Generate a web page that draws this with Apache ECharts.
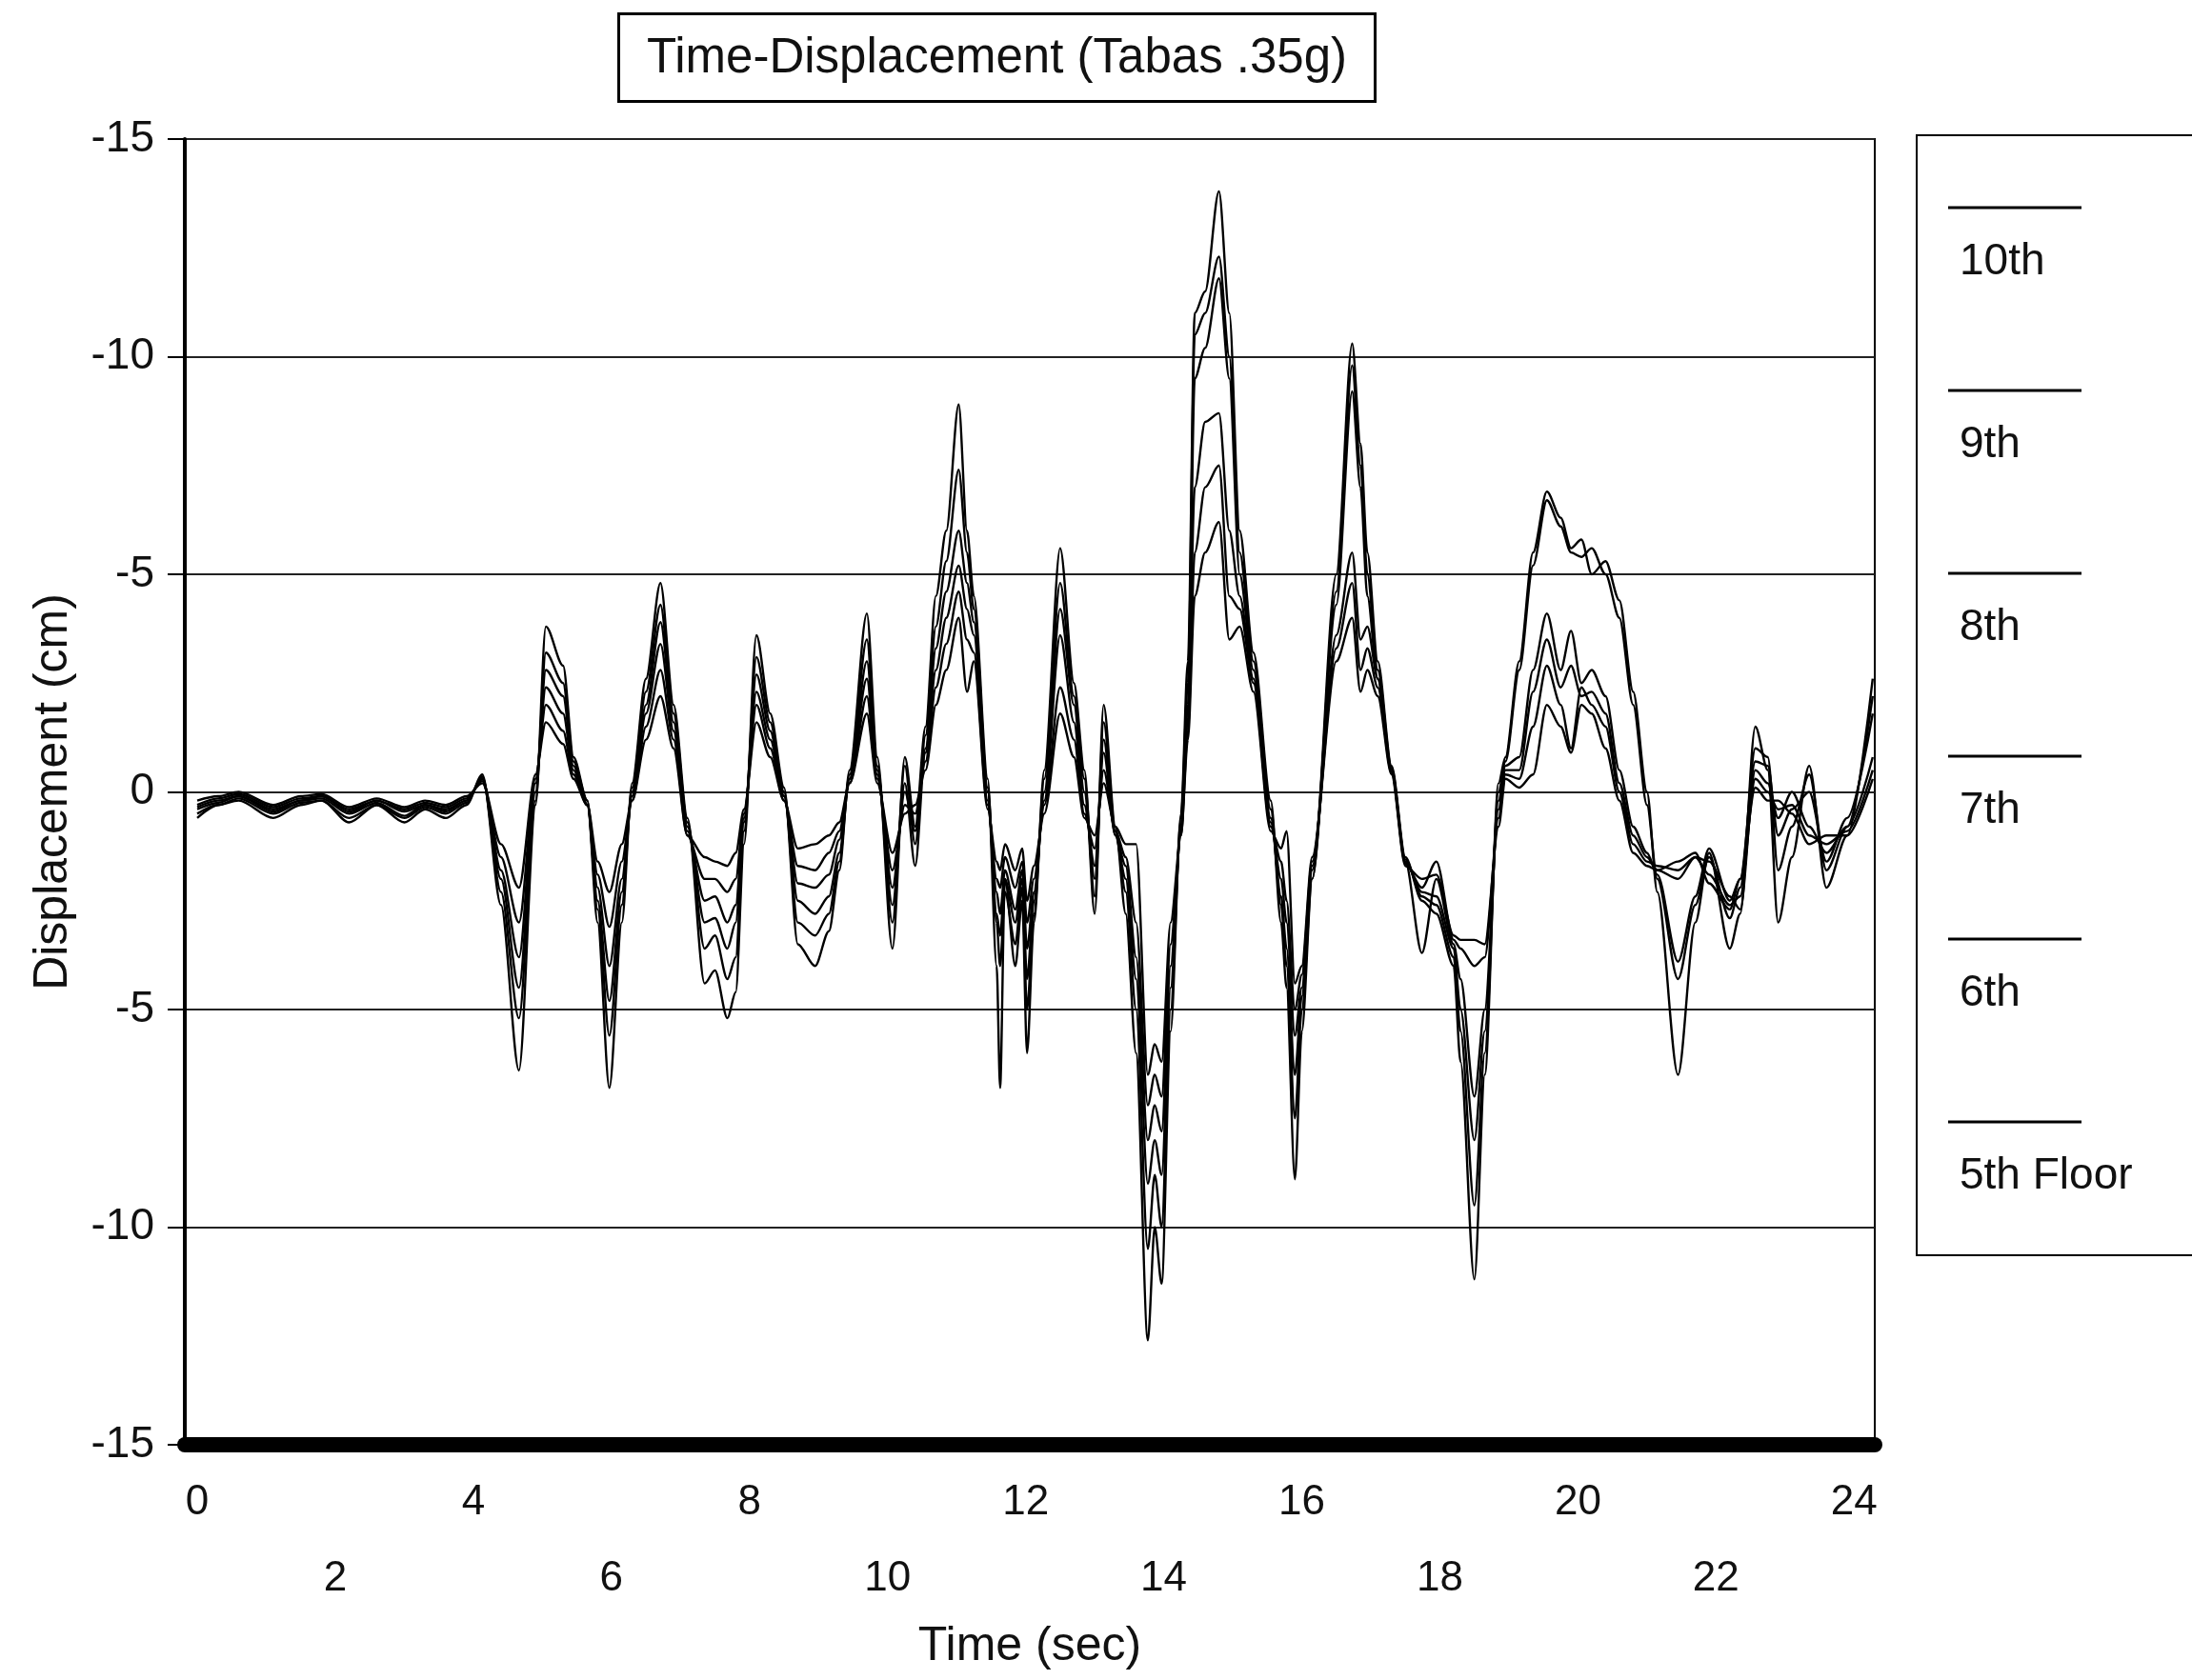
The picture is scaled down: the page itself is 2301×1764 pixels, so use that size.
<!DOCTYPE html>
<html><head><meta charset="utf-8">
<script src="https://cdn.jsdelivr.net/npm/echarts@6/dist/echarts.min.js"></script>
<style>html,body{margin:0;padding:0;background:#fff}#c{width:2301px;height:1764px}</style>
</head><body><div id="c"></div>
<script>
// time (sec)
const time = [
  0,0.3,0.6,1.1,1.5,1.8,2.2,2.6,3.0,3.3,3.6,3.9,4.13,
  4.4,4.66,4.9,5.05,5.3,5.45,5.65,
  5.8,5.97,6.15,6.3,6.5,6.71,6.9,
  7.1,7.35,7.5,7.68,7.8,7.92,
  8.1,8.3,8.5,8.7,8.95,9.15,9.3,
  9.45,9.7,9.85,10.07,10.25,10.4,10.55,
  10.7,10.85,11.03,11.15,11.25,11.45,
  11.58,11.63,11.7,11.85,11.95,12.02,12.12,12.27,
  12.5,12.7,12.85,13.0,13.13,13.3,13.45,
  13.6,13.77,13.87,13.97,14.1,14.25,14.35,
  14.45,14.6,14.8,14.95,15.1,15.3,
  15.55,15.7,15.78,15.9,16.0,16.15,
  16.5,16.73,16.85,16.95,17.1,17.3,17.5,
  17.74,17.95,18.2,18.3,18.5,18.65,18.85,18.95,
  19.15,19.35,19.55,19.75,19.9,20.05,20.2,20.4,
  20.6,20.8,21.0,21.15,21.45,21.7,21.9,
  22.2,22.35,22.57,22.75,22.9,23.1,23.35,23.6,23.9,24.27
];
const floor10 = [
  -0.6,-0.3,-0.2,-0.6,-0.3,-0.2,-0.7,-0.3,-0.7,-0.4,-0.6,-0.3,0.4,
  -2.6,-6.4,-0.3,3.8,2.9,0.8,-0.2,
  -3.0,-6.8,-3.0,0.2,2.6,4.8,2.0,
  -0.6,-4.4,-4.1,-5.2,-4.6,-1.2,
  3.6,1.8,0.1,-3.5,-4.0,-3.2,-1.8,
  0.5,4.1,0.8,-3.6,0.8,-0.8,1.5,
  4.5,6.0,8.9,6.0,4.5,0.3,
  -4.0,-6.8,-2.0,-4.0,-2.5,-6.0,-3.0,0.5,
  5.6,2.5,0.5,-2.8,2.0,-0.8,-2.8,
  -6.0,-12.6,-10.0,-11.3,-5.5,-0.5,3.0,
  11.0,11.5,13.8,11.0,6.0,3.2,
  -0.2,-3.0,-4.5,-8.9,-5.5,-2.0,
  5.0,10.3,8.0,5.5,3.0,0.6,-1.5,
  -2.5,-2.8,-4.0,-6.2,-11.2,-6.5,0.2,0.8,
  3.0,5.5,6.9,6.3,5.6,5.8,5.0,5.3,
  4.4,2.3,0,-2.3,-6.5,-3.0,-1.4,
  -3.6,-2.8,1.5,0.5,-3.0,-1.5,0.6,-2.2,-1.0,2.6
];
const floor9 = [
  -0.5,-0.3,-0.15,-0.5,-0.25,-0.2,-0.6,-0.3,-0.6,-0.35,-0.5,-0.25,0.35,
  -2.3,-5.2,-0.2,3.2,2.5,0.7,-0.2,
  -2.7,-5.6,-2.6,0.1,2.3,4.3,1.8,
  -0.7,-3.6,-3.3,-4.3,-3.8,-0.9,
  3.1,1.6,0,-3.0,-3.3,-2.8,-1.6,
  0.4,3.5,0.6,-3.0,0.6,-1.2,1.3,
  3.8,5.3,7.4,5.5,4.2,0.1,
  -3.0,-4.0,-2.3,-3.5,-2.2,-5.0,-2.8,0.3,
  4.8,2.2,0.3,-2.4,1.6,-0.9,-2.3,
  -5.0,-10.5,-8.8,-10.0,-5.0,-0.6,2.5,
  10.5,11.0,12.3,10.0,5.5,3.0,
  -0.4,-2.6,-4.0,-7.5,-5.0,-2.0,
  4.6,9.8,7.5,5.0,2.8,0.55,-1.55,
  -2.4,-2.6,-3.8,-5.5,-9.5,-6.0,0,0.7,
  2.8,5.2,6.7,6.1,5.5,5.4,5.6,5.0,
  4.0,2.0,-0.3,-2.0,-4.3,-2.6,-1.5,
  -2.9,-2.2,1.0,0.8,-1.8,-0.8,0.4,-1.8,-0.8,2.2
];
const floor8 = [
  -0.4,-0.25,-0.1,-0.45,-0.2,-0.15,-0.5,-0.25,-0.55,-0.3,-0.45,-0.2,0.3,
  -2.0,-4.5,0,2.8,2.2,0.6,-0.3,
  -2.5,-4.8,-2.3,0,2.0,3.9,1.6,
  -0.8,-3.0,-2.9,-3.6,-3.0,-0.7,
  2.7,1.4,-0.1,-2.5,-2.8,-2.4,-1.4,
  0.3,3.0,0.5,-2.6,0.2,-1.7,1.0,
  3.3,4.6,6.0,4.8,3.9,0,
  -2.8,-3.3,-2.0,-3.0,-2.0,-4.3,-2.5,0,
  4.2,2.0,0,-2.0,1.2,-1.0,-2.0,
  -4.3,-9.0,-8.0,-8.8,-4.5,-0.8,2.0,
  9.5,10.2,11.8,9.5,5.0,2.8,
  -0.6,-2.4,-3.6,-6.5,-4.7,-1.8,
  4.3,9.2,7.0,4.5,2.6,0.5,-1.6,
  -2.3,-2.4,-3.6,-5.0,-8.0,-5.5,-0.2,0.6,
  0.8,2.8,4.1,2.8,3.7,2.5,2.8,2.2,
  0.5,-0.8,-1.4,-1.9,-3.9,-2.4,-1.3,
  -2.5,-2.0,0.7,0.6,-1.0,-0.4,0,-1.6,-0.6,1.8
];
const floor7 = [
  -0.35,-0.2,-0.1,-0.4,-0.2,-0.1,-0.45,-0.2,-0.45,-0.3,-0.4,-0.2,0.3,
  -1.8,-3.8,0.2,2.4,1.8,0.5,-0.3,
  -2.2,-4.0,-2.0,-0.1,1.8,3.4,1.4,
  -0.9,-2.5,-2.4,-3.0,-2.6,-0.6,
  2.3,1.2,-0.1,-2.1,-2.2,-1.9,-1.1,
  0.3,2.6,0.4,-2.2,0,-0.9,0.9,
  2.8,4.0,5.2,4.2,3.6,-0.2,
  -2.3,-2.8,-1.8,-2.7,-1.8,-3.6,-2.3,-0.2,
  3.6,1.6,-0.3,-1.7,0.9,-1.0,-1.7,
  -3.8,-8.0,-7.2,-7.8,-4.0,-0.9,1.7,
  7.0,8.5,8.7,6.0,4.5,2.6,
  -0.7,-2.0,-3.0,-5.6,-4.5,-1.7,
  3.6,5.5,3.5,3.8,2.6,0.5,-1.6,
  -3.7,-2.0,-3.5,-4.3,-7.0,-5.0,-0.4,0.5,
  0.5,2.3,3.5,2.4,2.9,2.2,2.3,1.8,
  0.2,-1.0,-1.5,-1.8,-2.0,-1.5,-1.6,
  -2.4,-2.7,0.5,0.2,-0.6,0,-0.8,-1.4,-0.8,0.8
];
const floor6 = [
  -0.3,-0.15,-0.05,-0.35,-0.15,-0.1,-0.4,-0.2,-0.4,-0.25,-0.35,-0.15,0.25,
  -1.5,-3.0,0.3,2.0,1.4,0.4,-0.3,
  -1.9,-3.1,-1.6,-0.2,1.5,2.8,1.2,
  -1.0,-2.0,-2.0,-2.3,-2.0,-0.5,
  2.0,1.0,-0.2,-1.7,-1.8,-1.4,-0.9,
  0.2,2.2,0.3,-1.8,-0.3,-0.5,0.7,
  2.4,3.4,4.6,3.5,3.2,-0.3,
  -2.0,-2.2,-1.5,-2.2,-1.6,-3.0,-2.0,-0.3,
  2.4,1.2,-0.5,-1.3,0.5,-0.9,-1.5,
  -3.0,-7.2,-6.5,-7.0,-3.5,-1.0,1.4,
  5.5,7.0,7.5,4.5,4.2,2.5,
  -0.8,-1.6,-2.5,-5.0,-4.2,-1.6,
  3.3,4.8,2.8,3.3,2.4,0.45,-1.65,
  -2.2,-1.6,-3.4,-3.6,-4.0,-3.8,-0.6,0.4,
  0.3,1.5,2.9,2.0,1.0,2.4,2.0,1.5,
  0,-1.2,-1.6,-1.7,-1.8,-1.5,-1.9,
  -2.6,-2.4,0.3,0,-0.4,-0.3,-1.0,-1.2,-0.9,0.5
];
const floor5 = [
  -0.2,-0.1,0,-0.3,-0.1,-0.05,-0.35,-0.15,-0.35,-0.2,-0.3,-0.1,0.2,
  -1.2,-2.2,0.4,1.6,1.1,0.3,-0.3,
  -1.6,-2.3,-1.2,-0.2,1.2,2.2,1.0,
  -1.0,-1.5,-1.6,-1.7,-1.4,-0.4,
  1.6,0.8,-0.2,-1.3,-1.2,-1.0,-0.7,
  0.2,1.8,0.2,-1.4,-0.5,-0.3,0.5,
  2.0,2.8,4.0,2.3,3.0,-0.4,
  -1.6,-1.8,-1.2,-1.8,-1.3,-2.5,-1.7,-0.5,
  1.8,0.8,-0.6,-1.0,0.2,-0.8,-1.2,
  -1.2,-6.5,-5.8,-6.2,-3.0,-1.0,1.2,
  4.5,5.5,6.2,3.5,3.8,2.3,
  -0.9,-1.3,-0.9,-4.4,-4.0,-1.5,
  3.0,4.0,2.3,2.8,2.2,0.4,-1.7,
  -2.0,-1.9,-3.3,-3.4,-3.4,-3.5,-0.8,0.3,
  0.1,0.4,2.0,1.5,0.9,2.0,1.8,1.0,
  -0.2,-1.4,-1.7,-1.8,-1.6,-1.4,-2.1,
  -2.7,-2.0,0.1,-0.2,-0.2,-0.5,-1.2,-1.0,-1.0,0.3
];
const floorNames = ['10th','9th','8th','7th','6th','5th Floor'];
const xTickLabels = [0,2,4,6,8,10,12,14,16,18,20,22,24];

const FONT = '"Liberation Sans", Arial, sans-serif';
const allFloors = [floor10, floor9, floor8, floor7, floor6, floor5];
const series = allFloors.map((vals, i) => ({
  name: floorNames[i],
  type: 'line',
  data: time.map((t, j) => [t, vals[j]]).filter(p => p[1] !== undefined),
  showSymbol: false,
  smooth: 0.3,
  smoothMonotone: 'x',
  lineStyle: { color: '#000', width: 2.4 },
  itemStyle: { color: '#000' },
  z: 3
}));

const chart = echarts.init(document.getElementById('c'), null, { renderer: 'canvas' });
chart.setOption({
  animation: false,
  backgroundColor: '#fff',
  title: {
    text: 'Time-Displacement (Tabas .35g)',
    left: 649, top: 14,
    padding: [22, 30, 20, 30],
    borderColor: '#000', borderWidth: 3,
    textStyle: { fontFamily: FONT, fontSize: 51, fontWeight: 'normal', color: '#111' }
  },
  legend: {
    orient: 'vertical',
    left: 2012, top: 142,
    icon: 'none',
    itemWidth: 1, itemHeight: 1,
    itemGap: 106,
    padding: [70, 90, 60, 27],
    borderColor: '#000', borderWidth: 2,
    selectedMode: false,
    data: floorNames,
    formatter: name => '{ln|}\n{t|' + name + '}',
    textStyle: {
      fontFamily: FONT,
      rich: {
        ln: { width: 140, height: 3, backgroundColor: '#000', lineHeight: 10 },
        t: { fontSize: 46, lineHeight: 104, padding: [0, 0, 0, 12], fontFamily: FONT, color: '#111' }
      }
    }
  },
  grid: {
    left: 194, right: 333, top: 146, bottom: 247,
    show: true, borderColor: '#000', borderWidth: 2, backgroundColor: 'transparent'
  },
  xAxis: {
    type: 'value', min: -0.18, max: 24.3,
    name: 'Time (sec)', nameLocation: 'middle', nameGap: 187,
    nameTextStyle: { fontFamily: FONT, fontSize: 50, color: '#111' },
    axisLine: { onZero: false, lineStyle: { color: '#000', width: 16 } },
    axisTick: { show: false },
    splitLine: { show: false },
    axisLabel: {
      customValues: xTickLabels,
      formatter: v => (v % 4 === 0 ? String(v) : '\n' + v),
      lineHeight: 80, margin: 21,
      fontSize: 44, color: '#111', fontFamily: FONT
    }
  },
  yAxis: {
    type: 'value', min: -15, max: 15, interval: 5,
    name: 'Displacement (cm)', nameLocation: 'middle', nameRotate: 90, nameGap: 113,
    nameTextStyle: { fontFamily: FONT, fontSize: 50, color: '#111' },
    axisLine: { show: true, onZero: false, lineStyle: { color: '#000', width: 4 } },
    axisTick: { show: true, length: 18, lineStyle: { color: '#000', width: 2 } },
    axisLabel: {
      formatter: v => (v === 0 ? '0' : '-' + Math.abs(v)),
      margin: 32, fontSize: 46, color: '#111', fontFamily: FONT
    },
    splitLine: { show: true, lineStyle: { color: '#222', width: 2 } }
  },
  series: series
});
</script>
</body></html>
